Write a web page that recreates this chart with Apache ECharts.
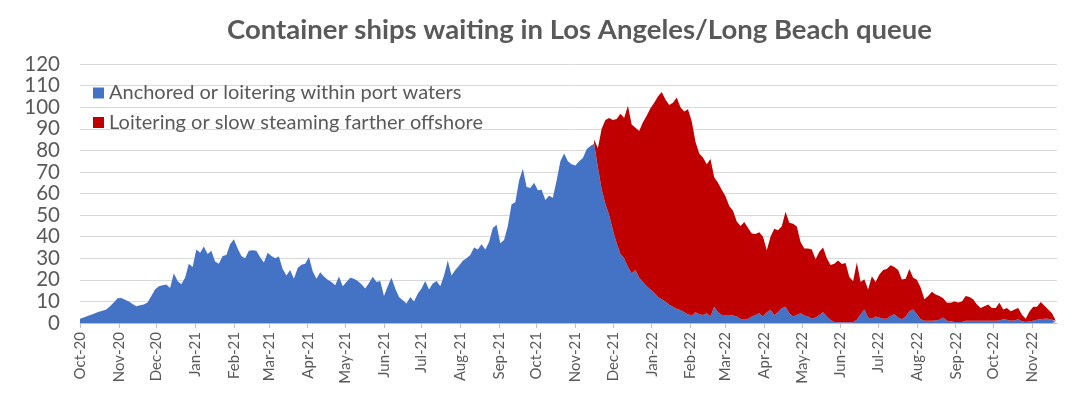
<!DOCTYPE html>
<html>
<head>
<meta charset="utf-8">
<script src="https://cdn.jsdelivr.net/npm/echarts@6/dist/echarts.min.js"></script>
<style>
  html, body { margin: 0; padding: 0; background: #fff; }
  #chart { width: 1080px; height: 399px; }
</style>
</head>
<body>
<div id="chart"></div>
<script>
// samples every 3 days starting 1 Oct 2020
const startDate = [2020, 9, 1];
const stepDays = 3;
const monthNames = ['Jan', 'Feb', 'Mar', 'Apr', 'May', 'Jun', 'Jul', 'Aug', 'Sep', 'Oct', 'Nov', 'Dec'];

// Anchored or loitering within port waters
const anchored = [
  2, 2.6, 3.2, 3.8, 4.5, 5.2, 5.7, 6.3, 7.8, 9.5,
  11.5, 11.6, 10.8, 10, 8.8, 7.8, 8.2, 8.6, 9.5, 12.5,
  15.5, 17, 17.5, 17.8, 16.2, 23, 19.5, 18, 21, 27.5,
  26, 34, 32.5, 35.5, 32, 33.5, 28.5, 27.5, 31, 31.5,
  36.5, 38.8, 34.5, 31, 30, 33.5, 33.7, 33.5, 30.5, 28,
  32.5, 31, 30, 30.8, 25, 22, 24.5, 20.5, 25.5, 27,
  27.5, 30.6, 24, 20.5, 23.5, 21.5, 20, 19, 17.5, 21.5,
  17, 19, 21, 20.5, 19.5, 18, 16, 18.5, 21.4, 19,
  19.5, 12.5, 17, 21, 16, 12, 10.5, 9, 12, 10,
  13.5, 16, 19.5, 15.5, 18.3, 19.5, 17, 22, 29, 22,
  24.5, 26.5, 28.8, 30, 31.5, 35, 34, 36.5, 34, 37.5,
  44, 45.5, 37, 38.5, 45, 55, 56, 66, 71.5, 63,
  62.5, 65, 61.5, 61.7, 57, 59, 58, 66, 75, 78.5,
  75, 73.5, 73, 75, 76.5, 80.5, 82,
  83, 72, 62, 55, 50, 43, 37, 32, 30, 26,
  23, 24.5, 21, 19, 17, 15.5, 14, 12, 11, 10,
  8.5, 7.5, 6.5, 6, 5, 4, 3.5, 5, 4, 3.7,
  4.5, 3, 7.5, 5, 3.7, 3.7, 3.7, 3.5, 3, 2,
  1.5, 2, 3, 3.7, 4.5, 3, 5, 6, 3.7, 5,
  6.8, 7.5, 4.5, 3, 3.7, 4.5, 3.5, 3, 2, 2.5,
  3.7, 5, 3, 1.4, 0.5, 0.3, 0.3, 0.3, 0.3, 0.3,
  1.5, 4, 6.3, 2.5, 2, 3, 2.5, 2, 2, 3.2,
  4, 2.5, 1.7, 3, 5.5, 6.3, 4, 1.7, 1, 1,
  1, 1.2, 1.5, 2.5, 1, 0.8, 0.5, 0.5, 0.5, 1,
  1, 1, 1, 1, 1, 1, 1, 1, 1.2, 1.7,
  1.5, 1, 1.2, 1.7, 0.8, 0.5, 0.8, 1, 1.5, 1.7,
  2, 2, 1.5, 0.5
];

// Loitering or slow steaming farther offshore (counted from 16 Nov 2021)
const offshoreFirstIndex = 137;
const offshore = [
  2, 9, 28, 39, 45, 51, 57.5, 65, 65, 74.6,
  69, 66, 68, 74, 79, 84, 88, 93, 96, 93.5,
  92.5, 94.5, 98, 94, 93, 95, 90, 79, 74.5, 73,
  69, 73, 60, 60, 58, 55, 50.5, 48.5, 44, 43,
  45.3, 42, 38.5, 37.5, 37.5, 37, 28.7, 34, 40, 38,
  38, 44, 42, 43, 41, 33, 31, 31.5, 32, 27,
  29.3, 30, 27, 25.5, 27, 28.7, 27, 27.5, 21, 19,
  26.5, 15, 14, 13, 19.7, 16, 20, 22.5, 23, 23.5,
  22, 22, 18.5, 17.5, 19.5, 14.7, 16, 14.8, 10, 11.5,
  13.5, 12, 11, 9, 8.4, 8.6, 9.5, 9, 9.5, 11.5,
  11, 10, 7.6, 6, 6.8, 7.6, 6, 6, 8.2, 4.6,
  5.5, 4.5, 5, 5.3, 3, 1.5, 4.5, 6.5, 6, 8,
  6, 4.3, 3, 0.5
];

const yTicks = [0, 10, 20, 30, 40, 50, 60, 70, 80, 90, 100, 110, 120];

const dateAt = (i) => new Date(startDate[0], startDate[1], startDate[2] + i * stepDays).getTime();

const anchoredData = anchored.map((v, i) => [dateAt(i), v]);
const offshoreData = anchored.map((v, i) => {
  const k = i - offshoreFirstIndex;
  return [dateAt(i), k >= 0 ? offshore[k] : null];
});

const chart = echarts.init(document.getElementById('chart'));

const DAY = 24 * 3600 * 1000;
const font = 'Lato';

const option = {
  animation: false,
  backgroundColor: '#fff',
  title: {
    text: 'Container ships waiting in Los Angeles/Long Beach queue',
    left: 222,
    top: 11,
    textStyle: {
      fontFamily: font,
      fontWeight: 'bold',
      fontSize: 27.5,
      color: '#595959'
    }
  },
  legend: {
    orient: 'vertical',
    left: 93,
    top: 83,
    padding: 0,
    itemWidth: 11,
    itemHeight: 11,
    itemGap: 9.5,
    icon: 'rect',
    textStyle: {
      fontFamily: font,
      fontSize: 20,
      color: '#595959',
      lineHeight: 20
    },
    data: ['Anchored or loitering within port waters', 'Loitering or slow steaming farther offshore']
  },
  grid: {
    left: 80,
    right: 23,
    top: 64,
    bottom: 76
  },
  xAxis: {
    type: 'time',
    min: dateAt(0),
    max: new Date(2022, 10, 21).getTime(),
    splitNumber: 26,
    minInterval: 28 * DAY,
    maxInterval: 31 * DAY,
    axisLine: { lineStyle: { color: '#bfbfbf' } },
    axisTick: { show: true, length: 5, lineStyle: { color: '#bfbfbf' } },
    splitLine: { show: false },
    axisLabel: {
      rotate: 90,
      margin: 9,
      fontFamily: font,
      fontSize: 15,
      color: '#595959',
      formatter: (val) => {
        const d = new Date(val);
        if (d.getDate() !== 1) return '';
        return monthNames[d.getMonth()] + '-' + String(d.getFullYear()).slice(2);
      }
    }
  },
  yAxis: {
    type: 'value',
    min: yTicks[0],
    max: yTicks[yTicks.length - 1],
    interval: 10,
    axisLine: { show: false },
    axisTick: { show: false },
    splitLine: { lineStyle: { color: '#d9d9d9' } },
    axisLabel: {
      margin: 20,
      fontFamily: font,
      fontSize: 20.5,
      color: '#595959'
    }
  },
  series: [
    {
      name: 'Anchored or loitering within port waters',
      type: 'line',
      stack: 'ships',
      symbol: 'none',
      sampling: null,
      lineStyle: { width: 0 },
      itemStyle: { color: '#4472c4' },
      areaStyle: { color: '#4472c4', opacity: 1 },
      data: anchoredData
    },
    {
      name: 'Loitering or slow steaming farther offshore',
      type: 'line',
      stack: 'ships',
      symbol: 'none',
      lineStyle: { width: 0 },
      itemStyle: { color: '#c00000' },
      areaStyle: { color: '#c00000', opacity: 1 },
      data: offshoreData
    }
  ]
};

chart.setOption(option);
</script>
</body>
</html>
